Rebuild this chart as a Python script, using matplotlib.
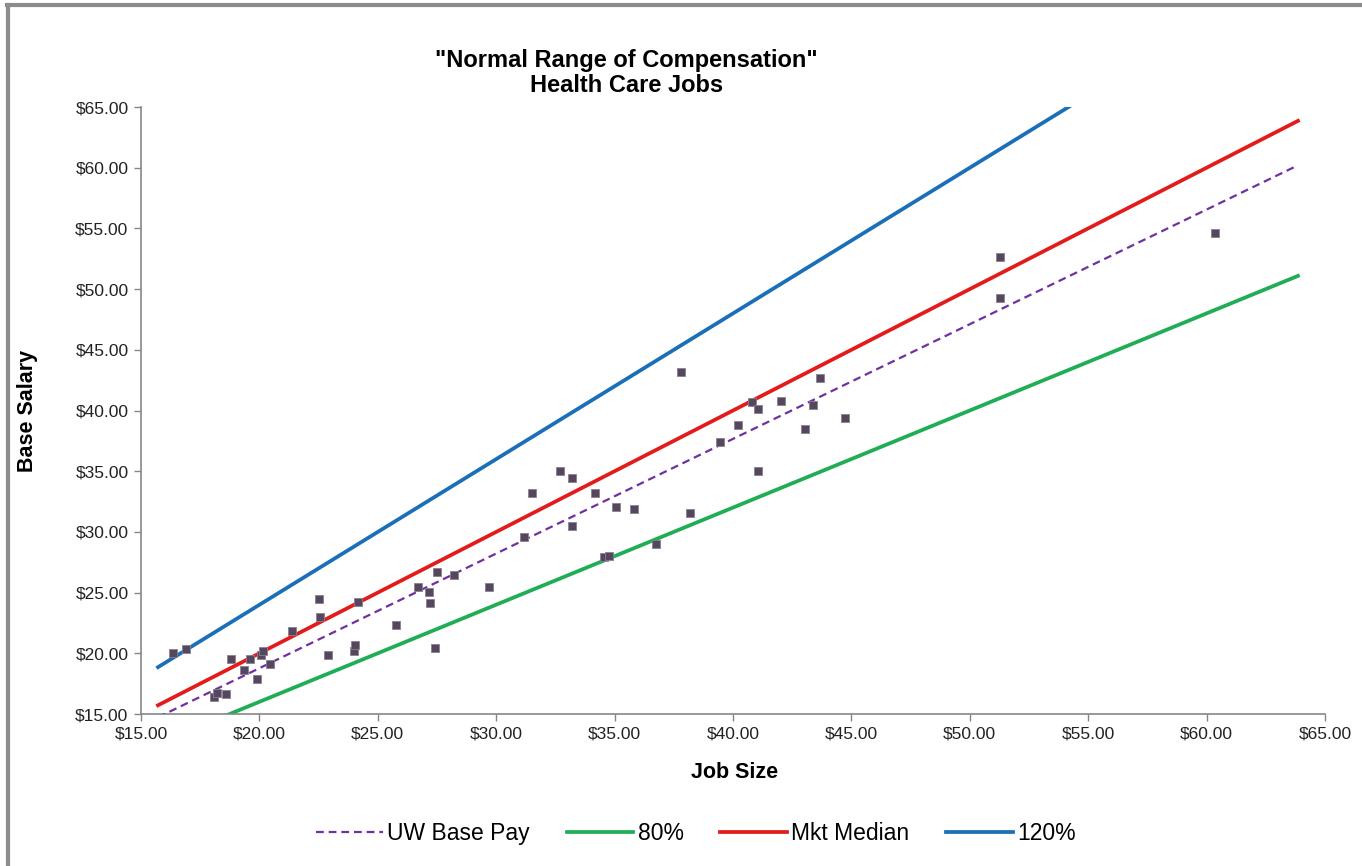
import matplotlib.pyplot as plt
from matplotlib.lines import Line2D
from matplotlib.ticker import FuncFormatter

plt.rcParams['font.family'] = ['Liberation Sans', 'DejaVu Sans']

# job size (x) and base salary (y) of each job
job_size = [16.36, 16.89, 18.10, 18.22, 18.58, 18.80, 19.36, 19.60, 19.89, 20.05,
            20.17, 20.45, 21.36, 22.52, 22.57, 22.88, 24.00, 24.04, 24.15, 25.78,
            26.71, 27.15, 27.19, 27.43, 27.50, 28.22, 29.71, 31.17, 31.50, 32.71,
            33.19, 33.19, 34.17, 34.55, 34.75, 35.07, 35.81, 36.76, 37.80, 38.17,
            39.45, 40.22, 40.82, 41.04, 41.07, 42.03, 43.04, 43.38, 43.67, 44.73,
            51.27, 51.27, 60.35]
base_salary = [20.00, 20.33, 16.43, 16.76, 16.62, 19.50, 18.62, 19.50, 17.85, 19.86,
               20.21, 19.12, 21.86, 24.47, 23.02, 19.83, 20.19, 20.68, 24.23, 22.36,
               25.43, 25.02, 24.12, 20.44, 26.67, 26.47, 25.43, 29.55, 33.23, 35.02,
               34.41, 30.51, 33.23, 27.96, 28.00, 32.05, 31.91, 28.97, 43.15, 31.58,
               37.38, 38.78, 40.72, 40.09, 35.02, 40.78, 38.48, 40.45, 42.68, 39.38,
               52.64, 49.27, 54.62]

# pay lines (start and end points)
line_x = [15.72, 63.86]
uw_base_pay = [14.73, 60.20]
pct_80 = [12.58, 51.09]
mkt_median = [15.72, 63.86]
pct_120 = [18.86, 76.63]

fig = plt.figure(figsize=(13.62, 8.66), dpi=100)
ax = fig.add_axes([0.1035, 0.1755, 0.8693, 0.7009])

ax.plot(line_x, uw_base_pay, color='#7030a0', lw=1.6, ls=(0, (3.5, 2.2)), label='UW Base Pay', zorder=3)
ax.plot(line_x, pct_80, color='#1fad55', lw=2.7, label='80%', zorder=2)
ax.plot(line_x, mkt_median, color='#e31b1b', lw=2.7, label='Mkt Median', zorder=2)
ax.plot(line_x, pct_120, color='#1b6fb8', lw=2.7, label='120%', zorder=2)
ax.scatter(job_size, base_salary, marker='s', s=26, color='#54475e',
           edgecolors='#8a8090', linewidths=0.6, zorder=4)

ax.set_xlim(15, 65)
ax.set_ylim(15, 65)
ax.set_xticks(range(15, 66, 5))
ax.set_yticks(range(15, 66, 5))
money = FuncFormatter(lambda v, p: f'${v:.2f}')
ax.xaxis.set_major_formatter(money)
ax.yaxis.set_major_formatter(money)
ax.tick_params(labelsize=12.5, length=5, width=1, color='#868686', pad=4, labelcolor='#222222')

for s in ['top', 'right']:
    ax.spines[s].set_visible(False)
for s in ['left', 'bottom']:
    ax.spines[s].set_color('#868686')
    ax.spines[s].set_linewidth(1.2)

ax.set_xlabel('Job Size', fontsize=15.5, fontweight='bold')
ax.set_ylabel('Base Salary', fontsize=15.5, fontweight='bold')
ax.xaxis.set_label_coords(0.5017, -0.079)
ax.yaxis.set_label_coords(-0.087, 0.5)

fig.text(0.46, 0.916, '"Normal Range of Compensation"\nHealth Care Jobs', ha='center', va='center',
         fontsize=17, fontweight='bold', linespacing=1.12)

fig.legend(loc='center', bbox_to_anchor=(0.511, 0.038), ncol=4, frameon=False, fontsize=16.5,
           handlelength=2.9, handletextpad=0.2, columnspacing=1.6)

# grey frame on the left and top edges
fig.add_artist(Line2D([0.0059, 0.0059], [0, 0.9942], transform=fig.transFigure, color='#8c8c8c', lw=3))
fig.add_artist(Line2D([0.0048, 1], [0.9942, 0.9942], transform=fig.transFigure, color='#8c8c8c', lw=3))

fig.savefig('out.png', dpi=100)
